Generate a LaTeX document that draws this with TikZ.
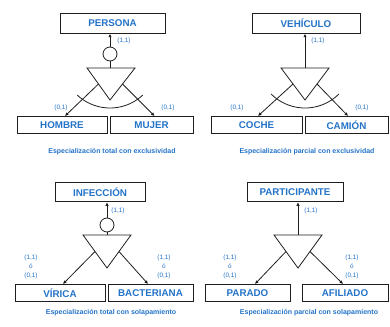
\documentclass[tikz,border=0pt]{standalone}
\usepackage{fontspec}
\setmainfont{Liberation Sans}
\usetikzlibrary{arrows.meta,calc}
\definecolor{txtblue}{RGB}{35,115,200}
\definecolor{linegray}{RGB}{30,30,30}
\begin{document}
\begin{tikzpicture}[x=1pt,y=-1pt,
  entity/.style={draw=linegray, line width=1pt, fill=white, inner sep=0pt,
    font=\bfseries\fontsize{9.8}{11}\selectfont, text=txtblue},
  parentbox/.style={entity, minimum height=19.5pt},
  childbox/.style={entity, minimum height=17pt},
  card/.style={font=\fontsize{6.4}{9}\selectfont, text=txtblue, inner sep=0pt, align=center},
  capt/.style={font=\bfseries\fontsize{7}{8}\selectfont, text=txtblue, inner sep=0pt},
  conn/.style={line width=0.8pt, draw=linegray},
  tip/.style={-{Latex[length=3.5pt,width=3.5pt]}},
  totc/.style={circle, draw=linegray, line width=0.8pt, minimum size=14pt, inner sep=0pt}]
\useasboundingbox (0,0) rectangle (390,326);

% ---------------- top-left: PERSONA ----------------
\node[parentbox, minimum width=105pt] (persona) at (112.5,23.5) {PERSONA};
\node[totc] (c1) at (110,54) {};
\coordinate (t1a) at (87,68); \coordinate (t1b) at (135,68); \coordinate (t1c) at (110,100);
\draw[conn] (t1a) -- (t1b) -- (t1c) -- cycle;
\draw[conn] (c1.south) -- (c1.south |- t1a);
\draw[conn,tip] (c1.north) -- (c1.north |- persona.south);
\node[childbox, minimum width=90pt] (hombre) at (62,125) {HOMBRE};
\node[childbox, minimum width=83pt] (mujer) at (151.5,125) {MUJER};
\draw[conn,tip] ($(t1a)!0.5!(t1c)$) -- ([xshift=3pt]hombre.north);
\draw[conn,tip] ($(t1b)!0.5!(t1c)$) -- ([xshift=3pt]mujer.north);
\draw[conn] plot[domain=47:133,samples=40] ({110+48*cos(\x)},{60+48*sin(\x)});
\node[card] (k1) at (124,41) {(1,1)};
\node[card] (k2) at (61,108) {(0,1)};
\node[card] (k3) at (168,108) {(0,1)};
\node[capt] (cap1) at (112,152) {Especialización total con exclusividad};

% ---------------- top-right: VEHICULO ----------------
\node[parentbox, minimum width=108pt] (vehiculo) at (306,23.5) {VEHÍCULO};
\coordinate (t2a) at (281,68); \coordinate (t2b) at (329,68); \coordinate (t2c) at (305,100);
\coordinate (m2) at (305,68);
\draw[conn] (t2a) -- (t2b) -- (t2c) -- cycle;
\draw[conn,tip] (m2) -- (m2 |- vehiculo.south);
\node[childbox, minimum width=91pt] (coche) at (256.5,125) {COCHE};
\node[childbox, minimum width=83pt] (camion) at (346.5,125) {CAMIÓN};
\draw[conn,tip] ($(t2a)!0.5!(t2c)$) -- ([xshift=1.5pt]coche.north);
\draw[conn,tip] ($(t2b)!0.5!(t2c)$) -- ([xshift=1.5pt]camion.north);
\draw[conn] plot[domain=45:135,samples=40] ({305+48*cos(\x)},{60+48*sin(\x)});
\node[card] (k4) at (318,41) {(1,1)};
\node[card] (k5) at (237,108) {(0,1)};
\node[card] (k6) at (362,108) {(0,1)};
\node[capt] (cap2) at (307,152) {Especialización parcial con exclusividad};

% ---------------- bottom-left: INFECCION ----------------
\node[parentbox, minimum width=90pt] (infeccion) at (100,192) {INFECCIÓN};
\node[totc] (c3) at (107,225) {};
\coordinate (t3a) at (83,235); \coordinate (t3b) at (131,235); \coordinate (t3c) at (107,268);
\draw[conn] (t3a) -- (t3b) -- (t3c) -- cycle;
\draw[conn] (c3.south) -- (c3.south |- t3a);
\draw[conn,tip] (c3.north) -- (c3.north |- infeccion.south);
\node[childbox, minimum width=90pt] (virica) at (60,293) {VÍRICA};
\node[childbox, minimum width=85pt] (bacteriana) at (150.5,293) {BACTERIANA};
\draw[conn,tip] ($(t3a)!0.5!(t3c)$) -- ([xshift=3pt]virica.north);
\draw[conn,tip] ($(t3b)!0.5!(t3c)$) -- ([xshift=-2.5pt]bacteriana.north);
\node[card] (k7) at (118,211) {(1,1)};
\node[card] (k8) at (31,267) {(1,1)\\ó\\(0,1)};
\node[card] (k9) at (164,267) {(1,1)\\ó\\(0,1)};
\node[capt] (cap3) at (111,313) {Especialización total con solapamiento};

% ---------------- bottom-right: PARTICIPANTE ----------------
\node[parentbox, minimum width=96pt] (participante) at (295,192) {PARTICIPANTE};
\coordinate (t4a) at (274,235); \coordinate (t4b) at (322,235); \coordinate (t4c) at (298,268);
\coordinate (m4) at (298,235);
\draw[conn] (t4a) -- (t4b) -- (t4c) -- cycle;
\draw[conn,tip] (m4) -- (m4 |- participante.south);
\node[childbox, minimum width=85pt] (parado) at (247.5,293) {PARADO};
\node[childbox, minimum width=86pt] (afiliado) at (345,293) {AFILIADO};
\draw[conn,tip] ($(t4a)!0.5!(t4c)$) -- ([xshift=7.5pt]parado.north);
\draw[conn,tip] ($(t4b)!0.5!(t4c)$) -- ([xshift=-2pt]afiliado.north);
\node[card] (k10) at (311,211) {(1,1)};
\node[card] (k11) at (230,267) {(1,1)\\ó\\(0,1)};
\node[card] (k12) at (352,267) {(1,1)\\ó\\(0,1)};
\node[capt] (cap4) at (309,313) {Especialización parcial con solapamiento};
\end{tikzpicture}
\end{document}
